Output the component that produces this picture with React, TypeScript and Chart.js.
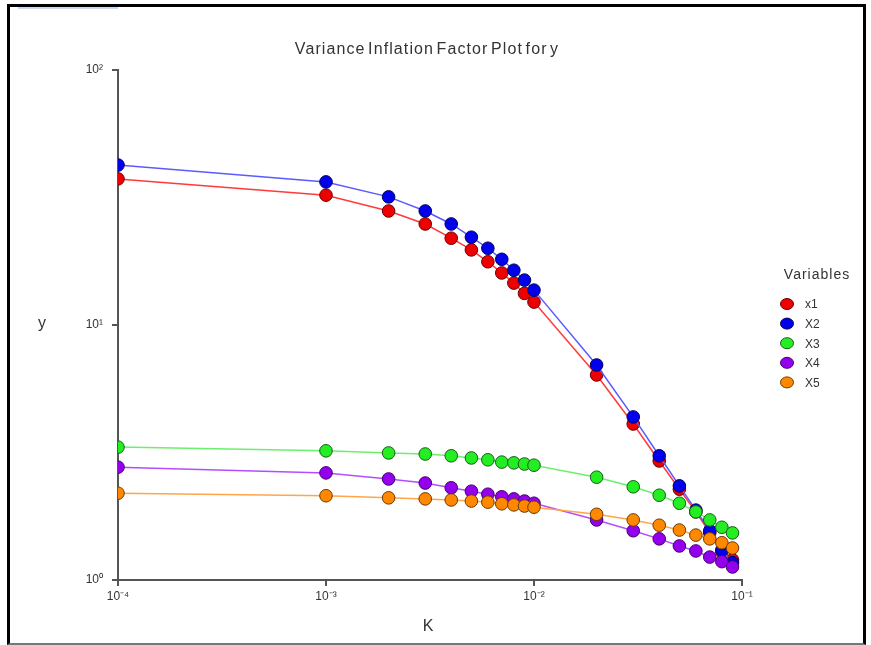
import React, { useEffect, useRef } from "react";
import { Chart, registerables } from "chart.js";

Chart.register(...registerables);

const kValues = [0.0001, 0.001, 0.002, 0.003, 0.004, 0.005, 0.006, 0.007, 0.008, 0.009, 0.01, 0.02, 0.03, 0.04, 0.05, 0.06, 0.07, 0.08, 0.09];
const x1Vif = [37.4, 32.3, 28.0, 24.9, 21.9, 19.7, 17.7, 16.0, 14.6, 13.3, 12.3, 6.37, 4.09, 2.93, 2.27, 1.85, 1.53, 1.29, 1.2];
const x2Vif = [42.4, 36.4, 31.8, 28.0, 24.9, 22.1, 20.0, 18.1, 16.4, 15.0, 13.7, 6.97, 4.36, 3.07, 2.34, 1.88, 1.56, 1.31, 1.17];
const x3Vif = [3.32, 3.21, 3.15, 3.12, 3.07, 3.01, 2.96, 2.9, 2.88, 2.85, 2.82, 2.53, 2.32, 2.15, 2.0, 1.85, 1.72, 1.61, 1.53];
const x4Vif = [2.77, 2.63, 2.49, 2.4, 2.3, 2.23, 2.17, 2.12, 2.08, 2.04, 2.0, 1.72, 1.56, 1.45, 1.36, 1.3, 1.23, 1.18, 1.125];
const x5Vif = [2.19, 2.14, 2.1, 2.08, 2.06, 2.04, 2.02, 1.99, 1.97, 1.95, 1.93, 1.81, 1.72, 1.64, 1.57, 1.5, 1.45, 1.4, 1.335];

const seriesLabels = ["x1", "X2", "X3", "X4", "X5"];
const xTickValues = [0.0001, 0.001, 0.01, 0.1];
const xTickLabels = ["10\u207B\u2074", "10\u207B\u00B3", "10\u207B\u00B2", "10\u207B\u00B9"];
const yTickValues = [1, 10, 100];
const yTickLabels = ["10\u2070", "10\u00B9", "10\u00B2"];

const chartTitle = "Variance Inflation Factor Plot for y";
const xTitle = "K";
const yTitle = "y";
const legendTitle = "Variables";

const FONT = "Arial, 'Liberation Sans', sans-serif";

const styles = [
  { fill: "#ee0000", line: "#ff3a3a", edge: "#6a0000" },
  { fill: "#0000ee", line: "#5a5aff", edge: "#00005a" },
  { fill: "#22ee22", line: "#6cf06c", edge: "#1a5a1a" },
  { fill: "#9400ee", line: "#b44cff", edge: "#42006a" },
  { fill: "#ff8800", line: "#ffa64a", edge: "#6a3a00" },
];

const textPlugin = {
  id: "textPlugin",
  afterDraw(chart: any) {
    const ctx = chart.ctx;
    const a = chart.chartArea;
    ctx.save();
    ctx.fillStyle = "#333";
    ctx.textAlign = "center";
    ctx.textBaseline = "middle";
    ctx.font = `16px ${FONT}`;
    ctx.letterSpacing = "1.1px";
    ctx.wordSpacing = "-3px";
    ctx.fillText(chartTitle, 427, 50);
    ctx.letterSpacing = "0px";
    ctx.wordSpacing = "0px";
    ctx.font = `16px ${FONT}`;
    ctx.fillText(xTitle, (a.left + a.right) / 2 - 2, 627);
    ctx.fillText(yTitle, 42, 324);
    // legend
    ctx.font = `14px ${FONT}`;
    ctx.letterSpacing = "1px";
    ctx.fillText(legendTitle, 817, 275);
    ctx.letterSpacing = "0px";
    const ds = chart.data.datasets;
    ctx.font = `12px ${FONT}`;
    ctx.textAlign = "left";
    ds.forEach((d: any, i: number) => {
      const y = 304 + i * 19.6;
      ctx.beginPath();
      ctx.ellipse(787, y, 6.5, 5.5, 0, 0, Math.PI * 2);
      ctx.fillStyle = d.pointBackgroundColor;
      ctx.fill();
      ctx.lineWidth = 1;
      ctx.strokeStyle = d.pointBorderColor;
      ctx.stroke();
      ctx.fillStyle = "#333";
      ctx.fillText(d.label, 805, y + 1);
    });
    ctx.restore();
  },
};

export default function App() {
  const ref = useRef<HTMLCanvasElement | null>(null);
  useEffect(() => {
    document.body.style.margin = "0";
    const series = [x1Vif, x2Vif, x3Vif, x4Vif, x5Vif];
    const datasets = series.map((vals, i) => ({
      label: seriesLabels[i],
      data: kValues.map((k, j) => ({ x: k, y: vals[j] })),
      borderColor: styles[i].line,
      borderWidth: 1.5,
      pointBackgroundColor: styles[i].fill,
      pointBorderColor: styles[i].edge,
      pointBorderWidth: 1,
      pointRadius: 6.3,
      fill: false,
      tension: 0,
      order: 5 - i,
    }));
    const chart = new Chart(ref.current as HTMLCanvasElement, {
      type: "line",
      data: { datasets },
      plugins: [textPlugin],
      options: {
        animation: false,
        responsive: false,
        layout: { padding: { left: 0, right: 129, top: 70, bottom: 0 } },
        plugins: { legend: { display: false }, tooltip: { enabled: false }, title: { display: false } },
        scales: {
          x: {
            type: "logarithmic",
            min: 0.0001,
            max: 0.1,
            afterFit: (s: any) => { s.height = 65; },
            afterBuildTicks: (s: any) => { s.ticks = xTickValues.map((v) => ({ value: v })); },
            ticks: {
              autoSkip: false,
              maxRotation: 0,
              padding: 3,
              color: "#333",
              font: { family: FONT, size: 12 },
              callback: (v: any) => { const i = xTickValues.findIndex((t) => Math.abs(t - v) / t < 1e-6); return i >= 0 ? xTickLabels[i] : null; },
            },
            grid: { display: true, drawOnChartArea: false, drawTicks: true, tickLength: 6, color: "#555", lineWidth: 2 },
            border: { display: true, color: "#555", width: 2 },
          },
          y: {
            type: "logarithmic",
            min: 1,
            max: 100,
            afterFit: (s: any) => { s.width = 118; },
            afterBuildTicks: (s: any) => { s.ticks = yTickValues.map((v) => ({ value: v })); },
            ticks: {
              autoSkip: false,
              padding: 9,
              color: "#333",
              font: { family: FONT, size: 12 },
              callback: (v: any) => { const i = yTickValues.findIndex((t) => Math.abs(t - v) / t < 1e-6); return i >= 0 ? yTickLabels[i] : null; },
            },
            grid: { display: true, drawOnChartArea: false, drawTicks: true, tickLength: 6, color: "#555", lineWidth: 2 },
            border: { display: true, color: "#555", width: 2 },
          },
        },
      },
    } as any);
    return () => chart.destroy();
  }, []);
  return (
    <div style={{ position: "fixed", left: 0, top: 0, width: 871, height: 645, background: "#fff", overflow: "hidden" }}>
      <canvas ref={ref} width={871} height={645} style={{ position: "absolute", left: 0, top: 0, display: "block" }} />
      <div style={{ position: "absolute", left: 7, top: 4, width: 853, height: 636, borderLeft: "3px solid #000", borderTop: "3px solid #000", borderRight: "3px solid #000", borderBottom: "2px solid #777", pointerEvents: "none" }} />
      <div style={{ position: "absolute", left: 18, top: 7, width: 100, height: 2, background: "#c6d9f0", pointerEvents: "none" }} />
    </div>
  );
}
